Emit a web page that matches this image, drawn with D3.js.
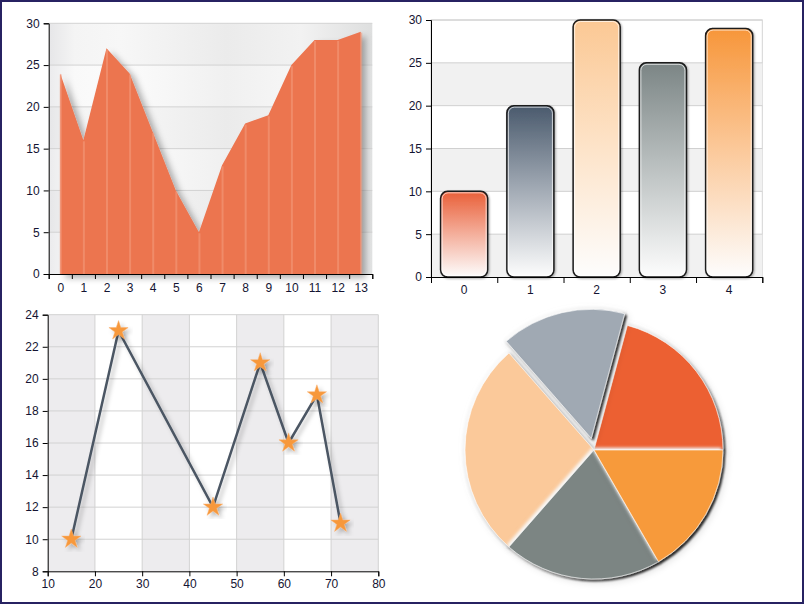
<!DOCTYPE html>
<html>
<head>
<meta charset="utf-8">
<script src="https://cdn.jsdelivr.net/npm/d3@7"></script>
<style>
  body { margin: 0; background: #fff; }
  svg { display: block; font-family: "Liberation Sans", Arial, sans-serif; }
  .axis text { font-size: 12px; fill: #141432; }
  .axis path, .axis line { stroke: #000; }
</style>
</head>
<body>
<svg id="chart" width="804" height="604"></svg>
<script>

// area chart data
let area_x = d3.range(0, 14);
let area_values = [24, 16, 27, 24, 17, 10, 5, 13, 18, 19, 25, 28, 28, 29];

// bar chart data
let bar_labels = ["0", "1", "2", "3", "4"];
let bar_values = [10, 20, 30, 25, 29];
let bar_colors = ["#e95f38", "#4a5a6d", "#fbc894", "#7b8585", "#f7963a"];

// line chart data
let line_x = [15, 25, 45, 55, 61, 67, 72];
let line_y = [10, 23, 12, 21, 16, 19, 11];

// pie data (counter clockwise from 3 o'clock)
let pie_values = [20, 15, 26, 19, 16];
let pie_colors = ["#ec6131", "#a0a9b3", "#fbc99a", "#7b8583", "#f79a3a"];
let pie_explode = [0, 12, 0, 0, 0];

let chart = d3.select("#chart");
let defs = chart.append("defs");

// outer frame
chart.append("rect")
	.attr("x", 1).attr("y", 1)
	.attr("width", 802).attr("height", 602)
	.attr("fill", "none")
	.attr("stroke", "#272262")
	.attr("stroke-width", 2);

function shadow(id, dx, dy, sd, op) {
	let f = defs.append("filter").attr("id", id)
		.attr("x", "-20%").attr("y", "-20%").attr("width", "140%").attr("height", "140%");
	f.append("feDropShadow")
		.attr("dx", dx).attr("dy", dy)
		.attr("stdDeviation", sd)
		.attr("flood-color", "#000")
		.attr("flood-opacity", op);
}
shadow("areaShadow", 5, 4, 3, 0.3);
shadow("lineShadow", 3, 3, 2, 0.25);
shadow("barShadow", 1, 1, 1, 0.35);

// ---------- top left: area chart ----------
{
	let left = 48.7, right = 372.3, top = 23.3, bottom = 274;

	let x = d3.scaleLinear().domain([-0.5, 13.5]).range([left, right]);
	let y = d3.scaleLinear().domain([0, 30]).range([bottom, top]);

	let bg = defs.append("linearGradient").attr("id", "areaBg")
		.attr("x1", 0).attr("x2", 1).attr("y1", 0).attr("y2", 0);
	[["0%", "#ebebed"], ["8%", "#f9f9f9"], ["22%", "#fcfcfc"], ["55%", "#f0f0f0"],
	 ["78%", "#f7f7f7"], ["100%", "#e3e4e4"]].forEach(function(s) {
		bg.append("stop").attr("offset", s[0]).attr("stop-color", s[1]);
	});

	chart.append("rect")
		.attr("x", left).attr("y", top)
		.attr("width", right - left).attr("height", bottom - top)
		.attr("fill", "url(#areaBg)");

	// alternating bands
	chart.append("g").selectAll("rect")
		.data([25, 15, 5]).enter()
		.append("rect")
			.attr("x", left).attr("width", right - left)
			.attr("y", function(d) { return y(d + 5); })
			.attr("height", function(d) { return y(d) - y(d + 5); })
			.attr("fill", "#000").attr("fill-opacity", 0.02);

	chart.append("g").selectAll("line")
		.data(d3.range(5, 31, 5)).enter()
		.append("line")
			.attr("x1", left).attr("x2", right)
			.attr("y1", function(d) { return y(d); })
			.attr("y2", function(d) { return y(d); })
			.attr("stroke", "#d2d2d2");

	let area = d3.area()
		.x(function(d, i) { return x(area_x[i]); })
		.y0(y(0))
		.y1(function(d) { return y(d); });

	chart.append("path")
		.datum(area_values)
		.attr("d", area)
		.attr("fill", "#ec7550")
		.attr("filter", "url(#areaShadow)");

	// light stripes on each point
	chart.append("g").selectAll("line")
		.data(area_values).enter()
		.append("line")
			.attr("x1", function(d, i) { return x(area_x[i]) + 0.5; })
			.attr("x2", function(d, i) { return x(area_x[i]) + 0.5; })
			.attr("y1", function(d) { return y(d) + 1; })
			.attr("y2", y(0))
			.attr("stroke", "#f39a7c")
			.attr("stroke-width", 2)
			.attr("stroke-opacity", 0.6);

	chart.append("g")
		.attr("class", "axis")
		.attr("transform", "translate(" + left + ",0)")
		.call(d3.axisLeft(y).tickValues(d3.range(0, 31, 5)).tickSize(5).tickPadding(4));

	chart.append("g")
		.attr("class", "axis")
		.attr("transform", "translate(0," + bottom + ")")
		.call(d3.axisBottom(x).tickValues(d3.range(-0.5, 14, 1)).tickFormat("").tickSizeInner(5).tickSizeOuter(5));

	chart.append("g")
		.attr("class", "axis")
		.attr("transform", "translate(0," + bottom + ")")
		.call(d3.axisBottom(x).tickValues(area_x).tickSize(0).tickPadding(9))
		.select(".domain").remove();
}

// ---------- top right: bar chart ----------
{
	let left = 431, right = 762.3, top = 20, bottom = 277;

	let x = d3.scaleBand().domain(bar_labels).range([left, right])
		.paddingInner(0.29).paddingOuter(0.145);
	let xl = d3.scaleLinear().domain([0, 5]).range([left, right]);
	let y = d3.scaleLinear().domain([0, 30]).range([bottom, top]);

	chart.append("rect")
		.attr("x", left).attr("y", top)
		.attr("width", right - left).attr("height", bottom - top)
		.attr("fill", "#fff")
		.attr("stroke", "#d4d4d4");

	chart.append("g").selectAll("rect")
		.data([0, 10, 20]).enter()
		.append("rect")
			.attr("x", left).attr("width", right - left)
			.attr("y", function(d) { return y(d + 5); })
			.attr("height", function(d) { return y(d) - y(d + 5); })
			.attr("fill", "#f1f1f1");

	chart.append("g").selectAll("line")
		.data(d3.range(5, 31, 5)).enter()
		.append("line")
			.attr("x1", left).attr("x2", right)
			.attr("y1", function(d) { return y(d); })
			.attr("y2", function(d) { return y(d); })
			.attr("stroke", "#d0d0d0");

	bar_colors.forEach(function(c, i) {
		let g = defs.append("linearGradient").attr("id", "barGrad" + i)
			.attr("x1", 0).attr("x2", 0).attr("y1", 0).attr("y2", 1);
		g.append("stop").attr("offset", "0%").attr("stop-color", c);
		g.append("stop").attr("offset", "45%").attr("stop-color", d3.interpolateRgb(c, "#fff")(0.45));
		g.append("stop").attr("offset", "100%").attr("stop-color", "#fdfdfd");
	});

	let bars = chart.append("g").selectAll("g")
		.data(bar_values).enter()
		.append("g");

	bars.append("rect")
		.attr("x", function(d, i) { return x(bar_labels[i]); })
		.attr("y", function(d) { return y(d); })
		.attr("width", x.bandwidth())
		.attr("height", function(d) { return y(0) - y(d); })
		.attr("rx", 7).attr("ry", 7)
		.attr("fill", function(d, i) { return "url(#barGrad" + i + ")"; })
		.attr("stroke", "#1a1a1a")
		.attr("stroke-width", 1.5)
		.attr("filter", "url(#barShadow)");

	bars.append("rect")
		.attr("x", function(d, i) { return x(bar_labels[i]) + 1.5; })
		.attr("y", function(d) { return y(d) + 1.5; })
		.attr("width", x.bandwidth() - 3)
		.attr("height", function(d) { return y(0) - y(d) - 3; })
		.attr("rx", 6).attr("ry", 6)
		.attr("fill", "none")
		.attr("stroke", "#fff")
		.attr("stroke-opacity", 0.7)
		.attr("stroke-width", 1);

	chart.append("g")
		.attr("class", "axis")
		.attr("transform", "translate(" + left + ",0)")
		.call(d3.axisLeft(y).tickValues(d3.range(0, 31, 5)).tickSize(5).tickPadding(4));

	chart.append("g")
		.attr("class", "axis")
		.attr("transform", "translate(0," + bottom + ")")
		.call(d3.axisBottom(xl).tickValues(d3.range(0, 6)).tickFormat("").tickSizeInner(6).tickSizeOuter(6));

	chart.append("g")
		.attr("class", "axis")
		.attr("transform", "translate(0," + bottom + ")")
		.call(d3.axisBottom(x).tickSize(0).tickPadding(8))
		.select(".domain").remove();
}

// ---------- bottom left: line chart ----------
{
	let left = 47.7, right = 378.3, top = 314.7, bottom = 571.3;

	let x = d3.scaleLinear().domain([10, 80]).range([left, right]);
	let y = d3.scaleLinear().domain([8, 24]).range([bottom, top]);

	chart.append("rect")
		.attr("x", left).attr("y", top)
		.attr("width", right - left).attr("height", bottom - top)
		.attr("fill", "#fff");

	chart.append("g").selectAll("rect")
		.data([10, 30, 50, 70]).enter()
		.append("rect")
			.attr("x", function(d) { return x(d); })
			.attr("width", function(d) { return x(d + 10) - x(d); })
			.attr("y", top).attr("height", bottom - top)
			.attr("fill", "#edecee");

	chart.append("g").selectAll("line")
		.data(d3.range(10, 24, 2)).enter()
		.append("line")
			.attr("x1", left).attr("x2", right)
			.attr("y1", function(d) { return y(d); })
			.attr("y2", function(d) { return y(d); })
			.attr("stroke", "#d2d2d2");

	chart.append("g").selectAll("line")
		.data(d3.range(20, 81, 10)).enter()
		.append("line")
			.attr("x1", function(d) { return x(d); })
			.attr("x2", function(d) { return x(d); })
			.attr("y1", top).attr("y2", bottom)
			.attr("stroke", "#d2d2d2");

	chart.append("line")
		.attr("x1", left).attr("x2", right)
		.attr("y1", top).attr("y2", top)
		.attr("stroke", "#d2d2d2");

	let line = d3.line()
		.x(function(d, i) { return x(line_x[i]); })
		.y(function(d) { return y(d); });

	chart.append("path")
		.datum(line_y)
		.attr("d", line)
		.attr("fill", "none")
		.attr("stroke", "#4b5664")
		.attr("stroke-width", 2.5)
		.attr("filter", "url(#lineShadow)");

	chart.append("g").selectAll("path")
		.data(line_y).enter()
		.append("path")
			.attr("d", d3.symbol().type(d3.symbolStar).size(115))
			.attr("transform", function(d, i) { return "translate(" + x(line_x[i]) + "," + y(d) + ")"; })
			.attr("fill", "#f7983a")
			.attr("stroke", "#f9b070")
			.attr("stroke-width", 0.5)
			.attr("filter", "url(#lineShadow)");

	chart.append("g")
		.attr("class", "axis")
		.attr("transform", "translate(" + left + ",0)")
		.call(d3.axisLeft(y).tickValues(d3.range(8, 25, 2)).tickSize(5).tickPadding(4));

	chart.append("g")
		.attr("class", "axis")
		.attr("transform", "translate(0," + bottom + ")")
		.call(d3.axisBottom(x).tickValues(d3.range(10, 81, 10)).tickSize(5).tickPadding(3));
}

// ---------- bottom right: pie ----------
{
	let cx = 594, cy = 450, r = 129;

	let f = defs.append("filter").attr("id", "pieBevel")
		.attr("x", "-20%").attr("y", "-20%").attr("width", "140%").attr("height", "140%");
	f.append("feDropShadow").attr("dx", -2).attr("dy", -2).attr("stdDeviation", 1.5)
		.attr("flood-color", "#fff").attr("flood-opacity", 0.9).attr("result", "hi");
	f.append("feDropShadow").attr("in", "hi").attr("dx", 2).attr("dy", 2).attr("stdDeviation", 1.1)
		.attr("flood-color", "#000").attr("flood-opacity", 0.85).attr("result", "sh");
	f.append("feDropShadow").attr("in", "sh").attr("dx", 2).attr("dy", 2).attr("stdDeviation", 3)
		.attr("flood-color", "#000").attr("flood-opacity", 0.12);

	let pie = d3.pie().sort(null)
		.startAngle(Math.PI / 2)
		.endAngle(Math.PI / 2 - 2 * Math.PI);
	let arc = d3.arc().innerRadius(0).outerRadius(r);

	chart.append("g")
		.attr("transform", "translate(" + cx + "," + cy + ")")
		.selectAll("path")
		.data(pie(pie_values)).enter()
		.append("path")
			.attr("transform", function(d, i) {
				let a = (d.startAngle + d.endAngle) / 2;
				let o = pie_explode[i];
				return "translate(" + (Math.sin(a) * o) + "," + (-Math.cos(a) * o) + ")";
			})
			.attr("d", arc)
			.attr("fill", function(d, i) { return pie_colors[i]; })
			.attr("stroke", "#fff")
			.attr("stroke-width", 1)
			.attr("stroke-opacity", 0.6)
			.attr("filter", "url(#pieBevel)");
}

</script>
</body>
</html>
